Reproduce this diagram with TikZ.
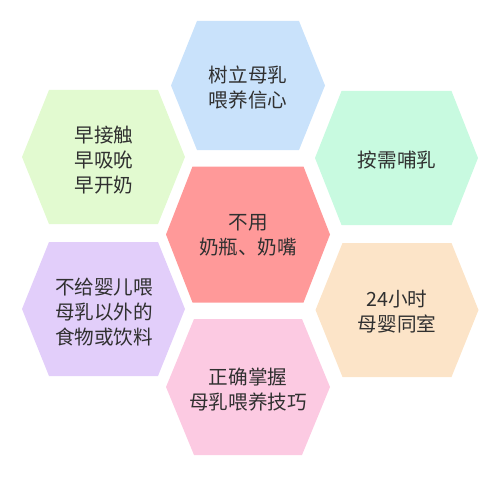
\documentclass[tikz,border=0pt]{standalone}
\usepackage{fontspec}
\setmainfont{Noto Sans CJK SC}
\definecolor{cblue}{RGB}{201,226,251}
\definecolor{cred}{RGB}{255,153,153}
\definecolor{cgreenl}{RGB}{226,250,208}
\definecolor{cmint}{RGB}{200,250,224}
\definecolor{clav}{RGB}{226,206,250}
\definecolor{cpeach}{RGB}{252,228,200}
\definecolor{cpink}{RGB}{252,202,226}
\definecolor{txtgray}{RGB}{48,48,48}
% #1 x, #2 y, #3 half-width, #4 half-height, #5 half top edge, #6 colour
\newcommand\myhex[6]{%
  \fill[#6] ({#1-#3},#2) -- ({#1-#5},{#2-#4}) -- ({#1+#5},{#2-#4}) --
    ({#1+#3},#2) -- ({#1+#5},{#2+#4}) -- ({#1-#5},{#2+#4}) -- cycle;}
\begin{document}
\begin{tikzpicture}[x=1pt,y=-1pt,
  txt/.style={align=center,text=txtgray,inner sep=0pt,
    font=\fontsize{19.6}{25}\selectfont}]
\useasboundingbox (0,0) rectangle (500,476);
\myhex{248}{85.5}{77}{64.5}{51}{cblue}
\myhex{248}{234.5}{82}{68}{55.5}{cred}
\myhex{103.5}{157}{81.5}{67}{54.5}{cgreenl}
\myhex{396.5}{158}{81.5}{67}{55}{cmint}
\myhex{103.5}{309}{81.5}{67}{54.5}{clav}
\myhex{397}{310}{81.5}{67}{54.5}{cpeach}
\myhex{248}{387}{82}{68}{54}{cpink}
\node[txt] (t1) at (248,87.5) {树立母乳\\喂养信心};
\node[txt] (t2) at (248,235) {不用\\奶瓶、奶嘴};
\node[txt] (t3) at (104,160) {早接触\\早吸吮\\早开奶};
\node[txt] (t4) at (397,160) {按需哺乳};
\node[txt] (t5) at (104,312) {不给婴儿喂\\母乳以外的\\食物或饮料};
\node[txt] (t6) at (397,312) {24小时\\母婴同室};
\node[txt] (t7) at (248,390) {正确掌握\\母乳喂养技巧};
\end{tikzpicture}
\end{document}
